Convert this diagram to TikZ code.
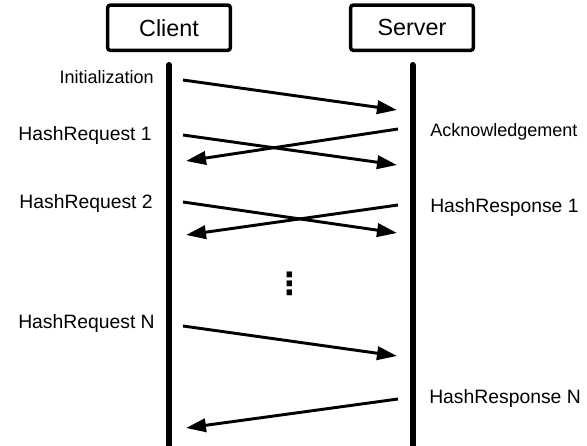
\documentclass[tikz,border=0pt]{standalone}
\usepackage{fontspec}
\setmainfont{Liberation Sans}
\newfontfamily\dvfont{DejaVu Sans}
\usetikzlibrary{arrows.meta}
\begin{document}
\begin{tikzpicture}[x=0.75pt,y=-0.75pt,
  actor/.style={draw,line width=2.6pt,rounded corners=2pt,minimum width=92pt,minimum height=34pt,inner sep=0pt,font=\fontsize{17.5}{20}\selectfont},
  life/.style={line width=4.5pt,line cap=round},
  msg/.style={line width=2.2pt,-{Triangle[length=15pt,width=10pt]}},
  lbl/.style={font=\fontsize{14.5}{17}\selectfont,inner sep=0pt},
  slbl/.style={font=\fontsize{13.5}{16}\selectfont,inner sep=0pt}]
\useasboundingbox (0,0) rectangle (587,446);
\node[actor] (client) at (169,27.7) {Client};
\node[actor] (server) at (412,27.7) {Server};
\coordinate (ctop) at (169,65);
\coordinate (cbot) at (169,450);
\coordinate (stop) at (412.5,65);
\coordinate (sbot) at (412.5,450);
\draw[life] (ctop) -- (cbot);
\draw[life] (stop) -- (sbot);
% endpoints
\coordinate (a1) at (183,80);  \coordinate (b1) at (397,110);
\coordinate (a2) at (398,129); \coordinate (b2) at (186,161);
\coordinate (a3) at (183,135); \coordinate (b3) at (397,165);
\coordinate (a4) at (398,205); \coordinate (b4) at (186,235);
\coordinate (a5) at (183,202); \coordinate (b5) at (397,233);
\coordinate (a6) at (183,326); \coordinate (b6) at (397,356);
\coordinate (a7) at (398,399); \coordinate (b7) at (186,428);
\draw[msg] (a1) -- (b1);
\draw[msg] (a2) -- (b2);
\draw[msg] (a3) -- (b3);
\draw[msg] (a4) -- (b4);
\draw[msg] (a5) -- (b5);
\draw[msg] (a6) -- (b6);
\draw[msg] (a7) -- (b7);
% labels
\node[slbl,anchor=base east] (l1) at (154,84) {Initialization};
\node[lbl,anchor=base east] (l2) at (152,140) {HashRequest 1};
\node[lbl,anchor=base east] (l3) at (153,208) {HashRequest 2};
\node[lbl,anchor=base east] (l4) at (155,328) {HashRequest N};
\node[slbl,anchor=base west] (r1) at (430,137) {Acknowledgement};
\node[lbl,anchor=base west] (r2) at (430,212) {HashResponse 1};
\node[lbl,anchor=base west] (r3) at (429,403) {HashResponse N};
\node[inner sep=0pt,font=\dvfont\bfseries\fontsize{23}{26}\selectfont] (dots) at (290,284) {⋮};
\end{tikzpicture}
\end{document}
